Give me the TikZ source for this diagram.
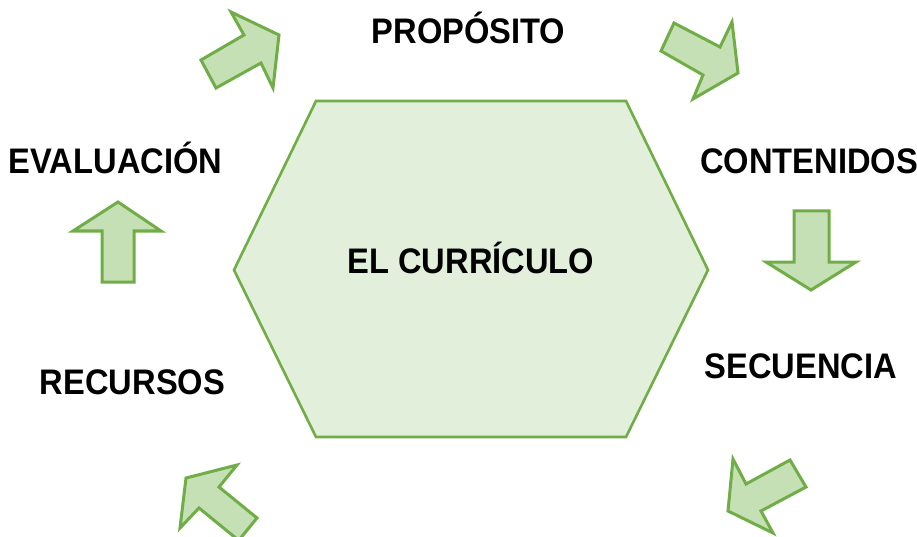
\documentclass[tikz,border=0pt]{standalone}
\usepackage{fontspec}
\setmainfont{Liberation Sans}[FakeStretch=0.92]
\definecolor{arrfill}{HTML}{C5E0B4}
\definecolor{hexfill}{HTML}{E2EFDA}
\definecolor{grn}{HTML}{70AD47}
\tikzset{
  bigarrow/.style={draw=grn, fill=arrfill, line width=3pt, line join=miter},
  hexa/.style={draw=grn, fill=hexfill, line width=2.6pt, line join=miter},
  lbl/.style={anchor=base, inner sep=0pt, font=\fontsize{35.5}{40}\selectfont\bfseries}
}
\begin{document}
\begin{tikzpicture}[x=1pt,y=-1pt]
\useasboundingbox (0,0) rectangle (917,537);
\clip (0,0) rectangle (917,537);
% hexagon
\draw[hexa] (316,101) -- (626,101) -- (708,270) -- (626,437) -- (316,437) -- (234,270) -- cycle;
% arrows
\draw[bigarrow] (201,60) -- (244,35) -- (231,12) -- (279,35) -- (273,88) -- (261,63) -- (216,88) -- cycle;
\draw[bigarrow] (661,51) -- (674,23) -- (720,47) -- (732,22) -- (738,73) -- (693,99) -- (703,75) -- cycle;
\draw[bigarrow] (794,211) -- (829,211) -- (829,262) -- (856,262) -- (811,290) -- (766,262) -- (794,262) -- cycle;
\draw[bigarrow] (733,459) -- (746,484) -- (790,460) -- (806,487) -- (761,511) -- (773,533) -- (728,511) -- cycle;
\draw[bigarrow] (186,478) -- (237,465) -- (219,487) -- (257,518) -- (238.7,540.4) -- (199,508) -- (180,528) -- cycle;
\draw[bigarrow] (118,202) -- (161,231) -- (134,231) -- (134,282) -- (102,282) -- (102,231) -- (73,231) -- cycle;
% labels
\node[lbl] (cur) at (471,273) {EL CURRÍCULO};
\node[lbl] (prop) at (468.5,44) {PROPÓSITO};
\node[lbl] (cont) at (809,174) {CONTENIDOS};
\node[lbl] (sec) at (801,378) {SECUENCIA};
\node[lbl] (rec) at (132.5,394) {RECURSOS};
\node[lbl] (eval) at (115.5,174) {EVALUACIÓN};
\end{tikzpicture}
\end{document}
